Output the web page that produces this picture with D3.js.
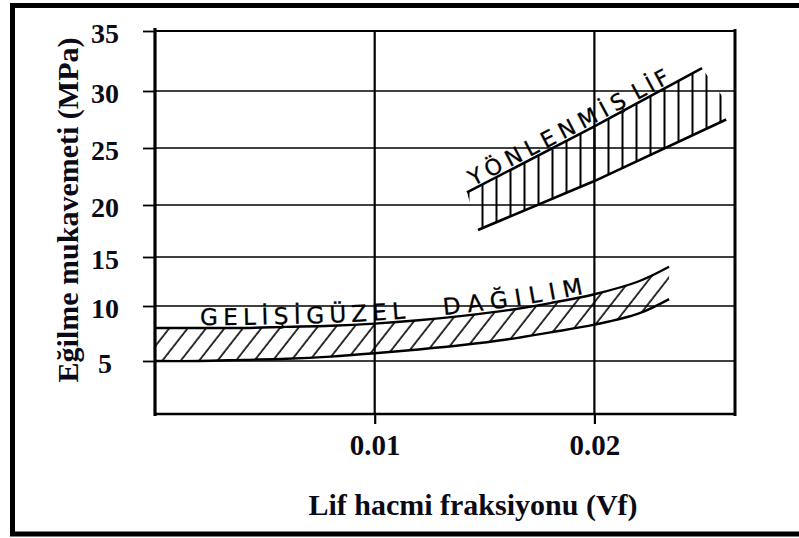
<!DOCTYPE html>
<html><head><meta charset="utf-8">
<script src="https://cdn.jsdelivr.net/npm/d3@7"></script>
<style>html,body{margin:0;padding:0;background:#fff;} svg{display:block;}</style>
</head><body><svg id="chart" width="799" height="538"></svg>
<script>
// ---------- data ----------
const xTicks = [0.01, 0.02];
const xTickLabels = ["0.01", "0.02"];
const yTicks = [5, 10, 15, 20, 25, 30, 35];
const yTickLabels = ["5", "10", "15", "20", "25", "30", "35"];
const xTitle = "Lif hacmi fraksiyonu (Vf)";
const yTitle = "Eğilme mukavemeti (MPa)";

// "Gelişigüzel dağılım" (random distribution) band
const randomX     = [0, 0.002, 0.004, 0.006, 0.008, 0.010, 0.012, 0.014, 0.016, 0.018, 0.020, 0.022, 0.0234];
const randomUpper = [8.0, 8.0, 8.0, 8.1, 8.2, 8.4, 8.7, 9.1, 9.6, 10.3, 11.2, 12.5, 14.0];
const randomLower = [5.0, 5.0, 5.1, 5.2, 5.4, 5.7, 6.05, 6.45, 6.95, 7.6, 8.3, 9.3, 10.7];
const randomLabel = ["GELİŞİGÜZEL", "DAĞILIM"];

// "Yönlenmiş lif" (oriented fibre) band
const orientedUpperX = [0.0142, 0.0200, 0.0249];
const orientedUpper  = [21.1, 26.9, 31.9];
const orientedLowerX = [0.0147, 0.0200, 0.0260];
const orientedLower  = [17.6, 22.1, 27.5];
const orientedEnd    = [0.0261, 28.8];
const orientedLabel  = ["YÖNLENMİŞ", "LİF"];

// ---------- layout ----------
const svg = d3.select("#chart");
const x = d3.scaleLinear().domain([0, 0.0264]).range([155, 735]);
// hand-drawn axis: piecewise-linear scale through the printed tick positions
const y = d3.scaleLinear().domain([0, 5, 10, 15, 20, 25, 30, 35])
  .range([414, 361, 306, 257, 205, 148, 91, 31]);

const serif = "'Liberation Serif', 'Times New Roman', serif";
const hand = "DejaVu Sans";

// outer frame
svg.append("rect").attr("x", 12.5).attr("y", 5.5).attr("width", 830).attr("height", 528.5)
  .attr("fill", "none").attr("stroke", "#000").attr("stroke-width", 5);

const defs = svg.append("defs");
// diagonal hatch
defs.append("pattern").attr("id", "diag").attr("patternUnits", "userSpaceOnUse")
  .attr("width", 14.5).attr("height", 20).attr("patternTransform", "rotate(38)")
  .append("line").attr("x1", 2).attr("x2", 2).attr("y1", -5).attr("y2", 25)
  .attr("stroke", "#000").attr("stroke-width", 1.6);
// vertical hatch
defs.append("pattern").attr("id", "vert").attr("patternUnits", "userSpaceOnUse")
  .attr("x", 467).attr("width", 14).attr("height", 20)
  .append("line").attr("x1", 1.5).attr("x2", 1.5).attr("y1", -5).attr("y2", 25)
  .attr("stroke", "#000").attr("stroke-width", 2);

// ---------- grid ----------
const grid = svg.append("g").attr("stroke", "#000");
grid.selectAll(".hg").data(yTicks.filter(d => d !== 35)).join("line")
  .attr("x1", x(0)).attr("x2", x.range()[1])
  .attr("y1", d => y(d)).attr("y2", d => y(d)).attr("stroke-width", 1.6);
grid.selectAll(".vg").data(xTicks).join("line")
  .attr("x1", d => x(d)).attr("x2", d => x(d))
  .attr("y1", y(35)).attr("y2", y(0)).attr("stroke-width", 2.2);

// ---------- bands ----------
const curve = d3.curveCatmullRom.alpha(0.5);
const randPts = randomX.map((d, i) => [d, randomUpper[i], randomLower[i]]);
const area = d3.area().x(d => x(d[0])).y0(d => y(d[2])).y1(d => y(d[1])).curve(curve);
svg.append("path").attr("d", area(randPts)).attr("fill", "url(#diag)");
const line = d3.line().x(d => x(d[0])).y(d => y(d[1])).curve(curve);
svg.append("path").attr("d", line(randPts.map(d => [d[0], d[1]])))
  .attr("fill", "none").attr("stroke", "#000").attr("stroke-width", 2.4);
svg.append("path").attr("d", line(randPts.map(d => [d[0], d[2]])))
  .attr("fill", "none").attr("stroke", "#000").attr("stroke-width", 2.4);

const oriUp = orientedUpperX.map((d, i) => [d, orientedUpper[i]]);
const oriLo = orientedLowerX.map((d, i) => [d, orientedLower[i]]);
const poly = oriUp.concat([orientedEnd]).concat(oriLo.slice().reverse());
svg.append("path").attr("d", "M" + poly.map(d => [x(d[0]), y(d[1])].join(",")).join("L") + "Z")
  .attr("fill", "url(#vert)");
const lin = d3.line().x(d => x(d[0])).y(d => y(d[1]));
svg.append("path").attr("d", lin(oriUp)).attr("fill", "none").attr("stroke", "#000").attr("stroke-width", 2.6);
svg.append("path").attr("d", lin(oriLo)).attr("fill", "none").attr("stroke", "#000").attr("stroke-width", 2.6);

// ---------- frame of plot ----------
const fr = svg.append("g").attr("stroke", "#000").attr("fill", "none");
fr.append("line").attr("x1", x(0)).attr("x2", x(0)).attr("y1", y(35) - 3).attr("y2", y(0) + 2).attr("stroke-width", 3.2);
fr.append("line").attr("x1", x(0)).attr("x2", x.range()[1] + 1).attr("y1", y(0)).attr("y2", y(0)).attr("stroke-width", 2.6);
fr.append("line").attr("x1", x.range()[1]).attr("x2", x.range()[1]).attr("y1", y(35) - 2).attr("y2", y(0) + 2).attr("stroke-width", 3);
fr.append("line").attr("x1", x(0)).attr("x2", x.range()[1] + 1).attr("y1", y(35)).attr("y2", y(35)).attr("stroke-width", 2.2);

// ---------- axes ----------
const yAxis = svg.append("g").attr("transform", `translate(${x(0)},0)`)
  .call(d3.axisLeft(y).tickValues(yTicks).tickFormat((d, i) => yTickLabels[i]).tickSize(12));
yAxis.select(".domain").remove();
yAxis.selectAll(".tick line").attr("stroke", "#000").attr("stroke-width", 1.8);
yAxis.selectAll(".tick text").attr("x", -50).attr("dy", null).attr("y", 11)
  .attr("text-anchor", "middle").attr("fill", "#0b0b18")
  .style("font-family", serif).style("font-weight", "bold").style("font-size", "28px");

const xAxis = svg.append("g").attr("transform", `translate(0,${y(0)})`)
  .call(d3.axisBottom(x).tickValues(xTicks).tickFormat((d, i) => xTickLabels[i]).tickSize(10));
xAxis.select(".domain").remove();
xAxis.selectAll(".tick line").attr("stroke", "#000").attr("stroke-width", 2.2);
xAxis.selectAll(".tick text").attr("dy", null).attr("y", 41).attr("fill", "#0b0b18")
  .style("font-family", serif).style("font-weight", "bold").style("font-size", "29px");

// axis titles
svg.append("text").attr("x", 473).attr("y", 515).attr("text-anchor", "middle")
  .attr("fill", "#0b0b18").style("font-family", serif).style("font-weight", "bold").style("font-size", "30px")
  .text(xTitle);
svg.append("text").attr("transform", "translate(78,210) rotate(-90)").attr("text-anchor", "middle")
  .attr("fill", "#0b0b18").style("font-family", serif).style("font-weight", "bold").style("font-size", "30px")
  .text(yTitle);

// ---------- hand-lettered band labels ----------
const randText = d3.line().x(d => x(d[0])).y(d => y(d[1]) - 3).curve(curve);
defs.append("path").attr("id", "randPath").attr("d", randText(randPts.map(d => [d[0], d[1]])));
const oriText = d3.line().x(d => x(d[0])).y(d => y(d[1]) - 3);
defs.append("path").attr("id", "oriPath").attr("d", oriText(oriUp));

function handLabel(pathId, txt, offset, spacing, size) {
  svg.append("text")
    .attr("font-family", hand).attr("font-size", size)
    .attr("letter-spacing", spacing).attr("fill", "#000")
    .attr("stroke", "#000").attr("stroke-width", 0.3)
    .append("textPath").attr("href", "#" + pathId).attr("startOffset", offset)
    .attr("font-size", size).text(txt);
}
handLabel("randPath", randomLabel[0], 45, 5.5, 23);
handLabel("randPath", randomLabel[1], 289, 7.5, 23);
handLabel("oriPath", orientedLabel[0], 7, 5.8, 22);
handLabel("oriPath", orientedLabel[1], 192, 3.6, 22);
</script></body></html>
